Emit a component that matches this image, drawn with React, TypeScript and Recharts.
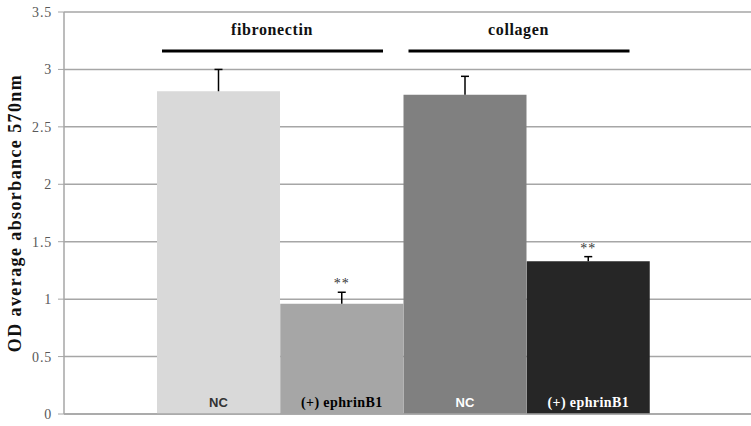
import { BarChart, Bar, XAxis, YAxis, CartesianGrid, LabelList, Cell } from "recharts";

const conditions = ["NC", "(+) ephrinB1", "NC", "(+) ephrinB1"];
const means = [2.81, 0.96, 2.78, 1.33];
const errUp = [0.19, 0.1, 0.16, 0.04];
const stars = ["", "**", "", "**"];
const groups = ["fibronectin", "", "collagen", ""];
const barColors = ["#d9d9d9", "#a6a6a6", "#808080", "#262626"];
const textColors = ["#333333", "#000000", "#ffffff", "#ffffff"];
const yTicks = [0, 0.5, 1, 1.5, 2, 2.5, 3, 3.5];

const data = conditions.map((c, i) => ({
  name: c + i,
  label: c,
  mean: means[i],
  star: stars[i],
  group: groups[i],
}));

const serif = "'Liberation Serif', 'Times New Roman', serif";
const sans = "'Liberation Sans', Arial, sans-serif";

// value -> pixel, derived from the bar's own rect
const yOf = (p: any, v: number, value: number) => p.y + p.height - (v * p.height) / value;

const BottomLabel = (props: any) => {
  const { x, y, width, height, index, value } = props;
  const isNC = value === "NC";
  return (
    <text
      x={x + width / 2}
      y={y + height - 7}
      textAnchor="middle"
      fontFamily={isNC ? sans : serif}
      fontWeight="bold"
      fontSize={isNC ? 13 : 14}
      letterSpacing={isNC ? 0 : 0.4}
      fill={textColors[index]}
    >
      {value}
    </text>
  );
};

const ErrLabel = (props: any) => {
  const { x, y, width, height, index } = props;
  const cx = x + width / 2;
  const top = yOf({ y, height }, means[index] + errUp[index], means[index]);
  return (
    <g stroke="#000" strokeWidth={1.5}>
      <line x1={cx} x2={cx} y1={y} y2={top} />
      <line x1={cx - 4} x2={cx + 4} y1={top} y2={top} />
    </g>
  );
};

const StarLabel = (props: any) => {
  const { x, y, width, height, index } = props;
  if (!stars[index]) return null;
  const top = yOf({ y, height }, means[index] + errUp[index], means[index]);
  return (
    <text x={x + width / 2} y={top - 4} textAnchor="middle" fontFamily={serif} fontSize={14} letterSpacing={1} fill="#333">
      {stars[index]}
    </text>
  );
};

const GroupLabel = (props: any) => {
  const { x, y, width, height, index } = props;
  if (!groups[index]) return null;
  const ly = yOf({ y, height }, 3.16, means[index]);
  const ty = yOf({ y, height }, 3.3, means[index]);
  return (
    <g>
      <line x1={x + 5} x2={x + 2 * width - 20} y1={ly} y2={ly} stroke="#000" strokeWidth={3} />
      <text x={x + width - 8} y={ty} textAnchor="middle" fontFamily={serif} fontWeight="bold" fontSize={16} letterSpacing={0.6} fill="#111">
        {groups[index]}
      </text>
    </g>
  );
};

const YTitle = (props: any) => {
  const { viewBox } = props;
  const cx = 15;
  const cy = viewBox.y + viewBox.height / 2;
  return (
    <text x={cx} y={cy} transform={`rotate(-90 ${cx} ${cy})`} textAnchor="middle" dominantBaseline="central" fontFamily={serif} fontWeight="bold" fontSize={18} letterSpacing={1.4} fill="#111">
      OD average absorbance 570nm
    </text>
  );
};

export default function App() {
  return (
    <div style={{ width: 751, height: 426, background: "#fff" }}>
      <style>{"body{margin:0}"}</style>
      <BarChart width={751} height={426} data={data} margin={{ top: 12, right: 0, bottom: 11, left: 0 }} barCategoryGap={0} barGap={0}>
        <CartesianGrid vertical={false} stroke="#a6a6a6" strokeWidth={1.5} />
        <XAxis dataKey="name" tick={false} height={1} padding={{ left: 93, right: 101 }} axisLine={{ stroke: "#a6a6a6", strokeWidth: 1.5 }} tickLine={false} />
        <YAxis
          domain={[0, 3.5]}
          ticks={yTicks}
          width={64}
          tickSize={6}
          tickMargin={6}
          axisLine={{ stroke: "#a6a6a6", strokeWidth: 1.5 }}
          tickLine={{ stroke: "#a6a6a6" }}
          tick={{ fontFamily: serif, fontSize: 14, fill: "#595959", letterSpacing: 0.8 }}
          label={<YTitle />}
        />
        <Bar dataKey="mean" isAnimationActive={false}>
          {data.map((d, i) => (
            <Cell key={d.name} fill={barColors[i]} />
          ))}
          <LabelList dataKey="label" content={BottomLabel} />
          <LabelList dataKey="mean" content={ErrLabel} />
          <LabelList dataKey="star" content={StarLabel} />
          <LabelList dataKey="group" content={GroupLabel} />
        </Bar>
      </BarChart>
    </div>
  );
}
